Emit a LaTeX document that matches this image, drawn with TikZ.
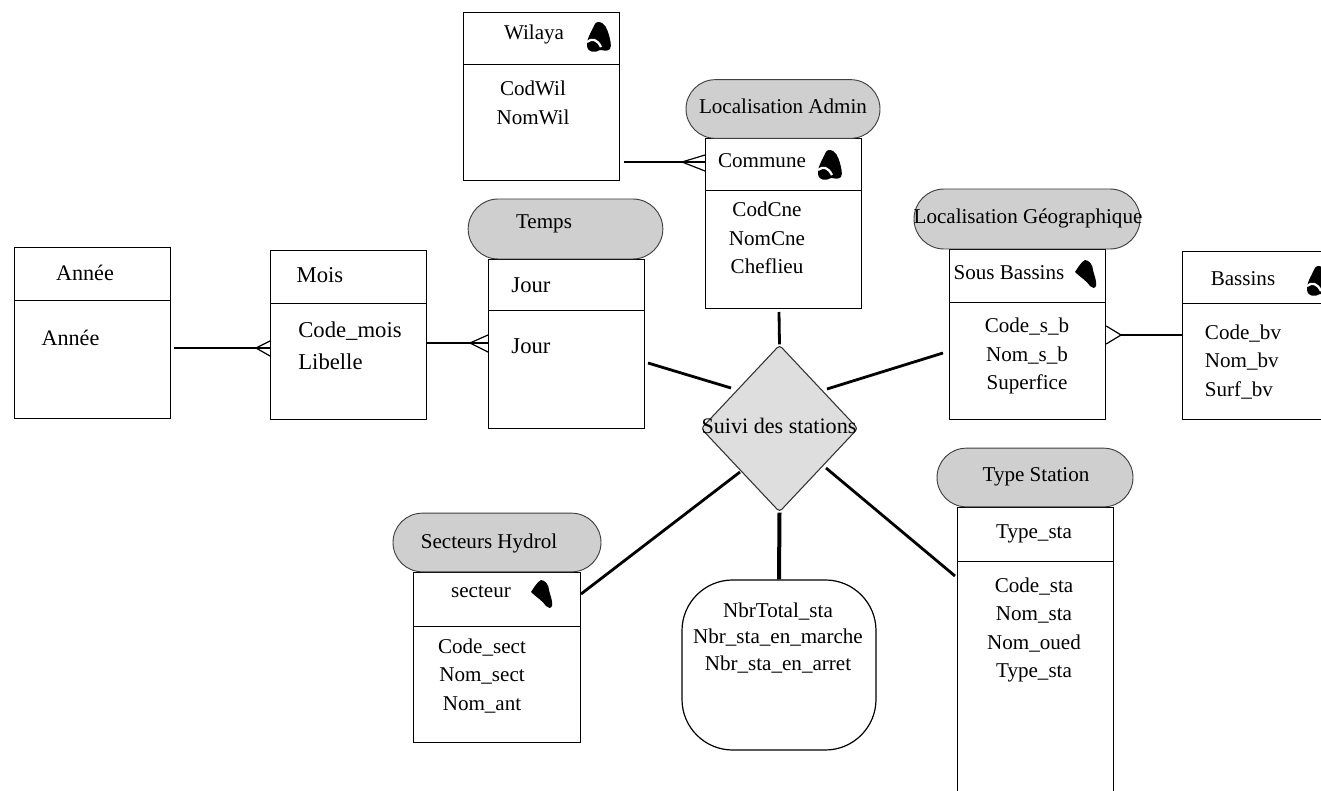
\documentclass[tikz,border=0pt]{standalone}
\usepackage{fontspec}
\setmainfont{Liberation Serif}
\usetikzlibrary{shapes.geometric,shapes.misc}
\definecolor{pillgrey}{HTML}{CFCFCF}
\definecolor{diagrey}{HTML}{DEDEDE}
\tikzset{
  tbl/.style={draw=black,line width=0.9pt,fill=white,anchor=north west,inner sep=0pt},
  pill/.style={draw=black!75,line width=0.7pt,fill=pillgrey,rounded rectangle,inner sep=0pt,font=\fontsize{15.8}{18}\selectfont},
  lab/.style={inner sep=0pt,font=\fontsize{15.8}{21.3}\selectfont,align=center},
  labbig/.style={inner sep=0pt,font=\fontsize{17}{24}\selectfont,align=left},
  labmid/.style={inner sep=0pt,font=\fontsize{16.6}{20}\selectfont,align=center},
  link/.style={line width=1.1pt},
  thick link/.style={line width=2.1pt},
  crow/.style={line width=0.9pt},
  divider/.style={line width=0.75pt},
  leaf/.style={fill=black,draw=none}
}
\newcommand{\leafslash}[3]{% x, y, rotation: leaf with a white stroke
  \begin{scope}[shift={(#1,#2)},rotate=#3]
  \fill[leaf] (0,-15) .. controls (7,-15) and (9,-8) .. (11,-2)
    .. controls (12,3) and (14,8) .. (12,12)
    .. controls (9,15) and (5,13) .. (2,13)
    .. controls (-3,16) and (-10,16) .. (-11,9)
    .. controls (-12,4) and (-8,-3) .. (-6,-7)
    .. controls (-4,-11) and (-3,-15) .. (0,-15) -- cycle;
  \draw[white,line width=1.7pt] (-11,5) .. controls (-6,1) and (-1,2) .. (3,10);
  \end{scope}
}
\newcommand{\leafplain}[2]{% x, y: plain rounded leaf
  \fill[leaf,shift={(#1,#2)}] (-11,-2) .. controls (-9,-5) and (-5,-12) .. (-1,-14)
    .. controls (3,-14) and (7,-9) .. (7,-4)
    .. controls (8,1) and (11,7) .. (10,12)
    .. controls (9,15) and (6,14) .. (4,12)
    .. controls (1,7) and (-6,3) .. (-11,-2) -- cycle;
}
\begin{document}
\begin{tikzpicture}[x=0.75pt,y=-0.75pt]
\useasboundingbox (0,0) rectangle (1321,791);
\clip (0,0) rectangle (1321,791);
\fill[white] (0,0) rectangle (1321,791);

% tables
\node[tbl,minimum width=117pt,minimum height=126pt] (wilaya) at (463,12) {};
\node[tbl,minimum width=117pt,minimum height=127.5pt] (commune) at (705,138) {};
\node[tbl,minimum width=117pt,minimum height=126.75pt] (jour) at (488,259) {};
\node[tbl,minimum width=117pt,minimum height=126.75pt] (mois) at (270,250) {};
\node[tbl,minimum width=117pt,minimum height=128.25pt] (annee) at (14,247) {};
\node[tbl,minimum width=117pt,minimum height=127.5pt] (sousb) at (949,249) {};
\node[tbl,minimum width=117pt,minimum height=126pt] (bassins) at (1182,251) {};
\node[tbl,minimum width=117pt,minimum height=225pt] (typesta) at (957,507) {};
\node[tbl,minimum width=125.25pt,minimum height=127.5pt] (secteur) at (413,572) {};

% dividers
\draw[divider] (wilaya.west |- 0,65) -- (wilaya.east |- 0,65);
\draw[divider] (commune.west |- 0,191) -- (commune.east |- 0,191);
\draw[divider] (jour.west |- 0,311) -- (jour.east |- 0,311);
\draw[divider] (mois.west |- 0,304) -- (mois.east |- 0,304);
\draw[divider] (annee.west |- 0,301) -- (annee.east |- 0,301);
\draw[divider] (sousb.west |- 0,303) -- (sousb.east |- 0,303);
\draw[divider] (bassins.west |- 0,304) -- (bassins.east |- 0,304);
\draw[divider] (typesta.west |- 0,561) -- (typesta.east |- 0,561);
\draw[divider] (secteur.west |- 0,626) -- (secteur.east |- 0,626);

% pills
\node[pill,minimum width=145.5pt,minimum height=44pt] (plocadmin) at (783,109) {};
\node[lab] at (783,106) {Localisation Admin};
\node[pill,minimum width=146pt,minimum height=45pt] (ptemps) at (565.5,229) {};
\node[lab] at (544,224) {Temps};
\node[pill,minimum width=169.5pt,minimum height=45pt] (plocgeo) at (1027,219) {};
\node[lab] at (1028,218) {Localisation Géographique};
\node[pill,minimum width=147pt,minimum height=44pt] (ptype) at (1035,477.5) {};
\node[lab] at (1036,477) {Type Station};
\node[pill,minimum width=156pt,minimum height=44pt] (psect) at (497,542.5) {};
\node[lab] at (489,543) {Secteurs Hydrol};

% diamond
\node[diamond,draw=black!80,line width=0.8pt,fill=diagrey,rounded corners=2.5pt,minimum width=117.75pt,minimum height=125.25pt,inner sep=0pt,aspect=0.94] (suivi) at (779.5,428.5) {};
\node[lab,font=\fontsize{16.6}{20}\selectfont] (suivilab) at (779,426) {Suivi des stations};

% rounded measures
\node[draw=black,line width=0.9pt,fill=white,rounded corners=38pt,minimum width=145.5pt,minimum height=127.5pt,inner sep=0pt] (mesures) at (779,665) {};

% texts
\node[lab] at (534,34) {Wilaya};
\node[lab] at (533,103) {CodWil\\NomWil};
\node[lab] at (762,161) {Commune};
\node[lab] at (767,238) {CodCne\\NomCne\\Cheflieu};
\node[labbig] at (531,285) {Jour};
\node[labbig] at (531,346) {Jour};
\node[labbig] at (320,275) {Mois};
\node[labbig] at (350,346) {Code\_mois\\Libelle};
\node[labmid] at (85,273) {Année};
\node[labmid] at (70.5,338) {Année};
\node[lab] at (1009,273) {Sous Bassins};
\node[lab] at (1027,356) {Code\_s\_b\\Nom\_s\_b\\Superfice};
\node[lab] at (1243,279) {Bassins};
\node[lab,align=left] at (1243,362) {Code\_bv\\Nom\_bv\\Surf\_bv};
\node[lab] at (1034,534) {Type\_sta};
\node[lab] at (1034,630) {Code\_sta\\Nom\_sta\\Nom\_oued\\Type\_sta};
\node[lab] at (481,592) {secteur};
\node[lab] at (482,676) {Code\_sect\\Nom\_sect\\Nom\_ant};
\node[lab,font=\fontsize{15.8}{20.2}\selectfont] at (778,638) {NbrTotal\_sta\\Nbr\_sta\_en\_marche\\Nbr\_sta\_en\_arret};

% leaves
\leafslash{598}{37}{0}
\leafslash{829}{165}{0}
\leafplain{1086}{274}
\leafslash{1318}{281}{0}
\leafplain{542}{594}

% free ends
\coordinate (wilayaend) at (624,162);
\coordinate (anneeend) at (174,348);
\coordinate (communeend) at (779,312);
\coordinate (jourend) at (648,363);
\coordinate (sousbend) at (943,353);
\coordinate (secteurend) at (581,594);
\coordinate (typeend) at (955,576);

% crow's feet links
\draw[link] (wilayaend) -- (commune.west |- wilayaend);
\draw[crow] (682,162) -- (705,155) (682,162) -- (705,171);
\draw[link,line width=1.4pt] (anneeend) -- (mois.west |- anneeend);
\draw[crow] (256,348) -- (270,341) (256,348) -- (270,356);
\draw[link,line width=1.6pt] (mois.east |- 0,343) -- (jour.west |- 0,343);
\draw[crow] (470,343) -- (488,335) (470,343) -- (488,352);
\draw[link] (bassins.west |- 0,335) -- (1121,335);
\draw[crow] (1121,335) -- (sousb.east |- 0,326) (1121,335) -- (sousb.east |- 0,344);

% links to the diamond
\draw[thick link] (communeend) -- (suivi.north);
\draw[thick link] (jourend) -- (731,388);
\draw[thick link] (sousbend) -- (827,389);
\draw[thick link] (secteurend) -- (740,472);
\draw[line width=3pt] (suivi.south) -- (mesures.north);
\draw[thick link] (typeend) -- (826,468);
\end{tikzpicture}
\end{document}
